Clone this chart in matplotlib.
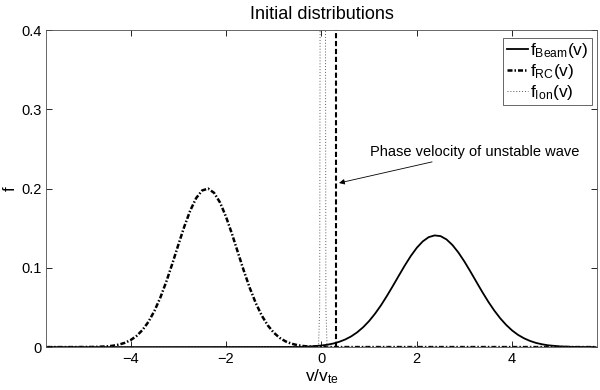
import numpy as np
import matplotlib
matplotlib.use("Agg")
import matplotlib.pyplot as plt

plt.rcParams['font.family'] = ['Liberation Sans', 'DejaVu Sans']
plt.rcParams['mathtext.fontset'] = 'custom'
plt.rcParams['mathtext.rm'] = 'Liberation Sans'
plt.rcParams['mathtext.it'] = 'Liberation Sans'
plt.rcParams['font.size'] = 10.5

# values
beam_v = [-5.75, -0.5, -0.25, 0.0, 0.125, 0.25, 0.375, 0.5, 0.625, 0.75, 0.875, 1.0,
          1.125, 1.25, 1.375, 1.5, 1.625, 1.75, 1.875, 2.0, 2.125, 2.25, 2.375, 2.5,
          2.625, 2.75, 2.875, 3.0, 3.125, 3.25, 3.375, 3.5, 3.625, 3.75, 3.875, 4.0,
          4.125, 4.25, 4.375, 4.5, 4.625, 4.75, 5.0, 5.25, 5.5, 5.75]
beam_f = [0.0, 0.0002, 0.0007, 0.0020, 0.0030, 0.0045, 0.0067, 0.0096, 0.0135, 0.0186,
          0.0250, 0.0328, 0.0421, 0.0527, 0.0646, 0.0772, 0.0902, 0.1030, 0.1149, 0.1252,
          0.1333, 0.1387, 0.1409, 0.1400, 0.1358, 0.1287, 0.1192, 0.1079, 0.0954, 0.0824,
          0.0695, 0.0573, 0.0462, 0.0364, 0.0280, 0.0210, 0.0154, 0.0111, 0.0078, 0.0053,
          0.0036, 0.0023, 0.0009, 0.0003, 0.0001, 0.0]

rc_v = [-5.75, -5.25, -5.0, -4.75, -4.5, -4.375, -4.25, -4.125, -4.0, -3.875, -3.75,
        -3.625, -3.5, -3.375, -3.25, -3.125, -3.0, -2.875, -2.75, -2.625, -2.5, -2.375,
        -2.25, -2.125, -2.0, -1.875, -1.75, -1.625, -1.5, -1.375, -1.25, -1.125, -1.0,
        -0.875, -0.75, -0.625, -0.5, -0.375, -0.25, 0.0, 0.25, 5.75]
rc_f = [0.0, 0.0, 0.0001, 0.0002, 0.0009, 0.0017, 0.0031, 0.0053, 0.0088, 0.0141, 0.0216,
        0.0320, 0.0457, 0.0627, 0.0828, 0.1053, 0.1289, 0.1519, 0.1722, 0.1880, 0.1976,
        0.1999, 0.1946, 0.1824, 0.1645, 0.1429, 0.1194, 0.0961, 0.0744, 0.0555, 0.0398,
        0.0275, 0.0183, 0.0117, 0.0072, 0.0043, 0.0024, 0.0013, 0.0007, 0.0002, 0.0, 0.0]

ion_v = [-5.75, -0.06, -0.035, -0.022, -0.01, 0.03, 0.07, 0.082, 0.095, 0.12, 5.75]
ion_f = [0.0, 0.0, 0.05, 0.6, 2.0, 3.0, 2.0, 0.6, 0.05, 0.0, 0.0]

phase_v = 0.3

fig = plt.figure(figsize=(6, 3.9), dpi=100)
ax = fig.add_axes([0.077, 0.110, 0.918, 0.813])

ax.plot(beam_v, beam_f, color='k', lw=1.3, label=r'$\mathrm{f_{Beam}(v)}$')
ax.plot(rc_v, rc_f, color='k', lw=1.8, linestyle=(0, (2, 0.8, 0.6, 0.8)),
        label=r'$\mathrm{f_{RC}(v)}$')
ax.plot(ion_v, ion_f, color='0.35', lw=0.7, linestyle=(0, (1, 2)),
        label=r'$\mathrm{f_{Ion}(v)}$')
ax.plot([phase_v, phase_v], [0, 0.4], color='k', lw=1.5, linestyle=(0, (2.5, 1.3)))

ax.annotate('Phase velocity of unstable wave', xy=(0.37, 0.207), xytext=(1.03, 0.246),
            va='center', ha='left', fontsize=10.5,
            arrowprops=dict(arrowstyle='-|>', color='k', lw=0.6, mutation_scale=8,
                            shrinkA=0, shrinkB=0))

ax.set_xlim(-5.77, 5.78)
ax.set_ylim(0, 0.4)
ax.set_xticks([-4, -2, 0, 2, 4])
ax.set_yticks([0, 0.1, 0.2, 0.3, 0.4])
ax.set_yticklabels(['0', '0.1', '0.2', '0.3', '0.4'])
ax.tick_params(direction='in', top=True, right=True, length=4, width=0.6)
for s in ax.spines.values():
    s.set_linewidth(0.6)
    s.set_color('0.3')

ax.set_title('Initial distributions', fontsize=13, pad=8)
ax.set_xlabel(r'$\mathrm{v/v_{te}}$', fontsize=12.5, labelpad=1)
ax.set_ylabel('f', fontsize=12)
ax.yaxis.set_label_coords(-0.052, 0.5)

leg = ax.legend(loc='upper right', bbox_to_anchor=(0.991, 0.975), borderaxespad=0,
                fancybox=False, edgecolor='0.3', framealpha=1, fontsize=12.5,
                handlelength=1.2, handletextpad=0.15, borderpad=0.2, labelspacing=0.1)
leg.get_frame().set_linewidth(0.6)

fig.savefig('out.png', dpi=100)
